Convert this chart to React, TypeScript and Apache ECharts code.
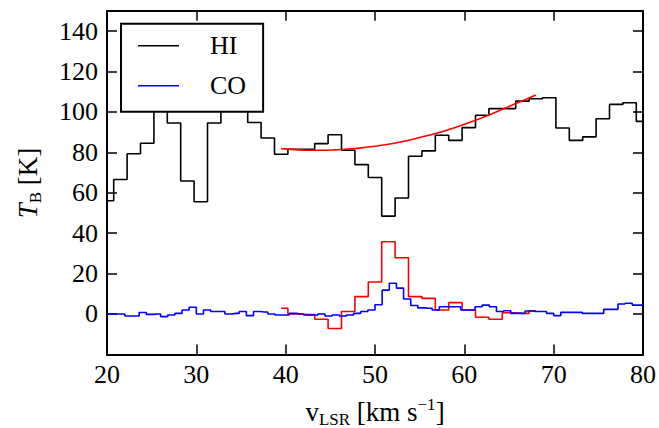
import React, { useEffect, useRef } from "react";
import * as echarts from "echarts";

// HI spectrum (black steps), 1.5 km/s channels
const hiVelocity = [20, 21.5, 23, 24.5, 26, 27.5, 29, 30.5, 32, 33.5, 35, 36.5, 38, 39.5, 41, 42.5, 44, 45.5, 47, 48.5, 50, 51.5, 53, 54.5, 56, 57.5, 59, 60.5, 62, 63.5, 65, 66.5, 68, 69.5, 71, 72.5, 74, 75.5, 77, 78.5, 80];
const hiTemp = [56, 66.5, 79.3, 84.5, 106, 94.5, 65.8, 55.5, 94.5, 104, 102, 94.7, 87.1, 79, 81.5, 81.5, 84.3, 88.7, 81, 73.9, 67.5, 48.4, 57.4, 78, 80.7, 88.4, 85.9, 92.2, 98.3, 101.6, 101.6, 105.3, 106.5, 107, 92, 85.9, 87.6, 96.6, 103.7, 104.5, 95.3];

// CO spectrum (blue steps)
const coVelocity = [20, 20.8, 21.6, 22.4, 23.2, 24, 24.8, 25.6, 26.4, 27.2, 28, 28.8, 29.6, 30.4, 31.2, 32, 32.8, 33.6, 34.4, 35.2, 36, 36.8, 37.6, 38.4, 39.2, 40, 40.8, 41.6, 42.4, 43.2, 44, 44.8, 45.6, 46.4, 47.2, 48, 48.8, 49.6, 50.4, 51.2, 52, 52.8, 53.6, 54.4, 55.2, 56, 56.8, 57.6, 58.4, 59.2, 60, 60.8, 61.6, 62.4, 63.2, 64, 64.8, 65.6, 66.4, 67.2, 68, 68.8, 69.6, 70.4, 71.2, 72, 72.8, 73.6, 74.4, 75.2, 76, 76.8, 77.6, 78.4, 79.2, 80];
const coTemp = [0, 0, 0, -1, -1, 0.7, -0.2, 0, -1.3, -0.5, 0.3, 2, 3.3, 0, 2, 1.2, 1.2, 0, 0.3, 1.2, -0.8, 1.2, 1, 0, -0.5, -0.5, 0.3, 0, -0.5, -0.5, 0, -1, -0.5, -1, -0.5, 0.3, 1.2, 2, 4.6, 11.8, 15.2, 12.8, 7.4, 4.2, 3, 2.8, 2, 3.6, 3.6, 3.6, 2, 2, 3.6, 4.4, 3.6, 1.2, 1.6, 0.3, 0.3, 1.5, 1.2, 1.2, 0.3, -0.8, 0.8, 0.8, 0.8, 0.3, 0.3, 0.3, 2.3, 2.3, 4.9, 5.3, 4.4, 4.4];

// Red residual / absorption spectrum (red steps)
const redVelocity = [39.5, 41, 42.5, 44, 45.5, 47, 48.5, 50, 51.5, 53, 54.5, 56, 57.5, 59, 60.5, 62, 63.5, 65, 66.5, 68];
const redTemp = [2.8, 0, -0.3, -2.6, -7.2, 1.2, 8.6, 15.8, 35.7, 27.8, 8.6, 7.7, 2.0, 5.6, 2.0, -1.6, -2.6, 0.6, 0.3, 1.6];

// Red fitted background curve
const fitVelocity = [39.5, 41, 42.5, 44, 45.5, 47, 48.5, 50, 51.5, 53, 54.5, 56, 57.5, 59, 60.5, 62, 63.5, 65, 66.5, 68];
const fitTemp = [81.8, 81.3, 81.0, 81.0, 81.2, 81.6, 82.2, 83.0, 84.0, 85.2, 86.7, 88.4, 90.2, 92.3, 94.6, 97.1, 99.8, 102.7, 105.5, 108.3];

const xTicks = { min: 20, max: 80, interval: 10 };
const yTicks = { min: -20, max: 150, interval: 20 };

const FONT = "'Liberation Serif', 'DejaVu Serif', serif";

function pairs(xs: number[], ys: number[]) {
  return xs.map((x, i) => [x, ys[i]]);
}

export default function App() {
  const ref = useRef<HTMLDivElement>(null);
  useEffect(() => {
    if (!ref.current) return;
    const chart = echarts.init(ref.current, undefined, { renderer: "svg" });
    const axisCommon = {
      type: "value" as const,
      splitLine: { show: false },
      axisLine: { show: true, onZero: false, lineStyle: { color: "#000", width: 2 } },
      axisTick: { show: true, inside: true, length: 10, lineStyle: { color: "#000", width: 1.5 } },
    };
    const tok = (size: number, extra: Record<string, unknown> = {}) => ({
      fontSize: size,
      fontFamily: FONT,
      fill: "#000",
      color: "#000",
      ...extra,
    });
    chart.setOption({
      animation: false,
      backgroundColor: "#fff",
      grid: { left: 107, right: 15.7, top: 10.8, bottom: 73.6, containLabel: false },
      xAxis: [
        {
          ...axisCommon,
          position: "bottom",
          ...xTicks,
          axisLabel: { color: "#000", fontSize: 26, fontFamily: FONT, margin: 7 },
        },
        {
          ...axisCommon,
          position: "top",
          ...xTicks,
          axisLabel: { show: false },
        },
      ],
      yAxis: [
        {
          ...axisCommon,
          position: "left",
          ...yTicks,
          axisLabel: {
            color: "#000",
            fontSize: 26,
            fontFamily: FONT,
            margin: 9,
            formatter: (v: number) => (v === -20 || v === 150 ? "" : String(v)),
          },
        },
        {
          ...axisCommon,
          position: "right",
          ...yTicks,
          axisLabel: { show: false },
        },
      ],
      legend: {
        data: ["HI", "CO"],
        orient: "vertical",
        left: 121,
        top: 23.7,
        backgroundColor: "#fff",
        borderColor: "#000",
        borderWidth: 2,
        borderRadius: 0,
        padding: [9, 17, 13, 17],
        itemGap: 14,
        itemWidth: 41,
        itemHeight: 1.6,
        icon: "rect",
        textStyle: { color: "#000", fontSize: 26, fontFamily: FONT, padding: [0, 0, 0, 26] },
      },
      graphic: [
        {
          type: "text",
          x: 375,
          y: 412,
          style: {
            text: "{m|v}{s|LSR}{m| [km s}{p|\u22121}{m|]}",
            fill: "#000",
            align: "center",
            verticalAlign: "middle",
            rich: {
              m: tok(27, { lineHeight: 32, verticalAlign: "middle" }),
              s: tok(17, { lineHeight: 17, verticalAlign: "bottom" }),
              p: tok(17, { lineHeight: 17, verticalAlign: "top" }),
            },
          },
        },
        {
          type: "text",
          x: 28,
          y: 183,
          rotation: Math.PI / 2,
          style: {
            text: "{i|T}{s|B}{m| [K]}",
            fill: "#000",
            align: "center",
            verticalAlign: "middle",
            rich: {
              i: tok(27, { fontStyle: "italic", lineHeight: 32, verticalAlign: "middle" }),
              s: tok(17, { lineHeight: 17, verticalAlign: "bottom" }),
              m: tok(27, { lineHeight: 32, verticalAlign: "middle" }),
            },
          },
        },
      ],
      series: [
        {
          name: "HI",
          type: "line",
          step: "middle",
          symbol: "none",
          data: pairs(hiVelocity, hiTemp),
          lineStyle: { color: "#000", width: 1.6 },
          itemStyle: { color: "#000" },
          z: 2,
        },
        {
          name: "fit",
          type: "line",
          smooth: 0.4,
          symbol: "none",
          data: pairs(fitVelocity, fitTemp),
          lineStyle: { color: "#ff0000", width: 1.6 },
          itemStyle: { color: "#ff0000" },
          z: 3,
        },
        {
          name: "residual",
          type: "line",
          step: "middle",
          symbol: "none",
          data: pairs(redVelocity, redTemp),
          lineStyle: { color: "#ff0000", width: 1.6 },
          itemStyle: { color: "#ff0000" },
          z: 3,
        },
        {
          name: "CO",
          type: "line",
          step: "middle",
          symbol: "none",
          data: pairs(coVelocity, coTemp),
          lineStyle: { color: "#0000ff", width: 1.6 },
          itemStyle: { color: "#0000ff" },
          z: 3,
        },
      ],
    });
    return () => chart.dispose();
  }, []);
  return (
    <div
      ref={ref}
      style={{ position: "fixed", left: 0, top: 0, width: 659, height: 428, background: "#fff" }}
    />
  );
}
